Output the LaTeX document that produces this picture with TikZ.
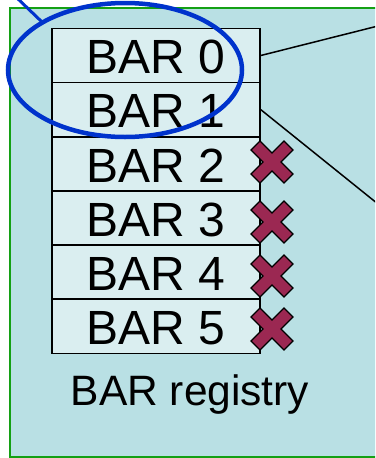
\documentclass[tikz,border=0pt]{standalone}
\usepackage{fontspec}
\setmainfont{Liberation Sans}
\usetikzlibrary{shapes.geometric}
\definecolor{bgc}{RGB}{185,224,228}
\definecolor{cellc}{RGB}{218,238,240}
\definecolor{crossc}{RGB}{155,40,82}
\definecolor{ellc}{RGB}{0,51,204}
\definecolor{framec}{RGB}{20,160,20}
\tikzset{
  cell/.style={draw=black, line width=1.6pt, fill=cellc, minimum width=208pt, minimum height=54.17pt, inner sep=0pt, font=\fontsize{48}{52}\selectfont, text depth=0pt},
  link/.style={draw=black, line width=1.5pt},
  xmark/.style={fill=crossc, draw=black, line width=1.2pt, line join=miter},
}
\begin{document}
\begin{tikzpicture}[x=1pt, y=-1pt]
\useasboundingbox (0,0) rectangle (375,458);
\clip (0,0) rectangle (375,458);
\draw[framec, line width=2pt, fill=bgc] (10,8) rectangle (390,457);
\foreach \i in {0,...,5} {
  \node[cell] (row\i) at (156, {55.5+54.17*\i}) {\raisebox{-3pt}{BAR \i}};
}
\coordinate (e0) at (378,26);
\coordinate (e1) at (378,204);
\draw[link] (row0.east) -- (e0);
\draw[link] (row1.east) -- (e1);
\foreach \cy in {162,222,276,329} {
  \begin{scope}[shift={(272,\cy)}]
    \draw[xmark] (-21,-12) -- (-12,-21) -- (0,-9) -- (12,-21) -- (21,-12) -- (9,0) -- (21,12) -- (12,21) -- (0,9) -- (-12,21) -- (-21,12) -- (-9,0) -- cycle;
  \end{scope}
}
\node[font=\fontsize{42.5}{48}\selectfont, anchor=base] (reg) at (190,405) {BAR registry};
\node[draw=ellc, line width=4.5pt, ellipse, minimum width=234pt, minimum height=134pt, inner sep=0pt] (ell) at (125,70) {};
\coordinate (b0) at (16,-3);
\coordinate (b1) at (42,22);
\draw[ellc, line width=3pt] (b0) -- (b1);
\end{tikzpicture}
\end{document}
